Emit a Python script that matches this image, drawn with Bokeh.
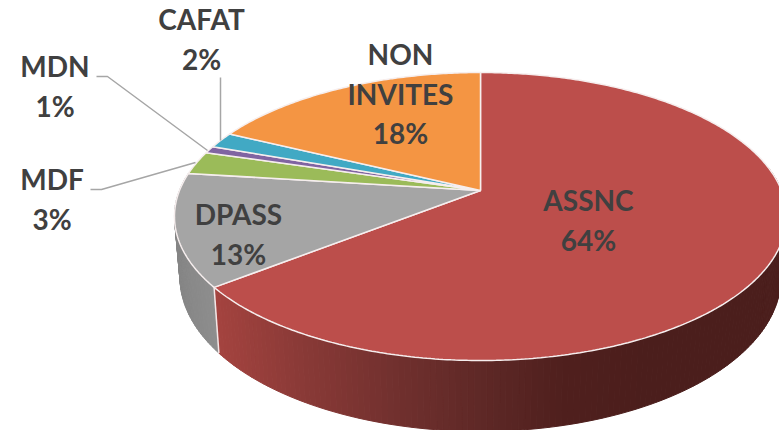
import numpy as np
from bokeh.plotting import figure
from bokeh.models import Range1d, ColumnDataSource
from bokeh.embed import file_html
from bokeh.resources import INLINE
from bokeh.core.properties import value

categories = ["ASSNC", "DPASS", "MDF", "MDN", "CAFAT", "NON INVITES"]
shares = [64.4, 12.6, 2.6, 0.8, 1.8, 17.8]
colors = ["#bc4e4b", "#a5a5a5", "#9bbb59", "#8064a2", "#41a9c4", "#f49543"]

# projection of the tilted disc
AX, AY = 480.0, 190.0
C, A, B = 301.0, 139.3, 0.1806
DEPTH = 66.0


def top_xy(theta):
    u, v = np.sin(theta), np.cos(theta)
    d = 1 + B * v
    return AX + C * u / d, AY - A * v / d


def bottom_xy(theta):
    x, y = top_xy(theta)
    return AX + (x - AX) * 0.982, y + DEPTH + (y - 290) * 0.07


def mix(stops, x):
    xs = [s[0] for s in stops]
    r = np.interp(x, xs, [s[1][0] for s in stops])
    g = np.interp(x, xs, [s[1][1] for s in stops])
    b = np.interp(x, xs, [s[1][2] for s in stops])
    return "#%02x%02x%02x" % (int(r), int(g), int(b))


RED_STOPS = [(219, (163, 67, 63)), (300, (138, 58, 55)), (400, (112, 48, 46)),
             (480, (95, 41, 39)), (560, (80, 32, 30)), (660, (75, 30, 28)), (790, (75, 30, 28))]
GRAY_STOPS = [(175, (134, 134, 134)), (220, (144, 144, 144))]

p = figure(width=779, height=430, output_backend="svg", toolbar_location=None,
           x_range=Range1d(0, 779), y_range=Range1d(430, 0), min_border=0,
           outline_line_color=None, background_fill_color="white", border_fill_color="white")
p.axis.visible = False
p.grid.visible = False

edges = np.cumsum([0] + shares) / sum(shares) * 2 * np.pi

# rim
red_end = edges[1]
gray_end = edges[2]
xs, ys, cs = [], [], []
for a, b in zip(np.radians(np.arange(80, 280, 1.0))[:-1], np.radians(np.arange(80, 280, 1.0))[1:]):
    if a >= gray_end:
        continue
    b = min(b, gray_end)
    if a < red_end < b:
        b = red_end
    x1, y1 = top_xy(a)
    x2, y2 = top_xy(b)
    x3, y3 = bottom_xy(b)
    x4, y4 = bottom_xy(a)
    xm = (x1 + x2) / 2
    cs.append(mix(RED_STOPS if a < red_end else GRAY_STOPS, xm))
    xs.append([x1, x2, x3, x4])
    ys.append([y1, y2, y3, y4])
p.patches("xs", "ys", source=ColumnDataSource(dict(xs=xs, ys=ys, c=cs)),
          fill_color="c", line_color="c", line_width=1)

# seam on the rim
sx, sy = top_xy(red_end)
bx, by = bottom_xy(red_end)
p.line([sx, bx], [sy, by], line_color="#f4e6e6", line_width=1.5)

# top face
for i, col in enumerate(colors):
    th = np.linspace(edges[i], edges[i + 1], max(3, int((edges[i + 1] - edges[i]) * 90)))
    x, y = top_xy(th)
    p.patch(np.r_[AX, x], np.r_[AY, y], fill_color=col, line_color="#f6eeee", line_width=1.5)

# leader lines
LEADER = "#a6a6a6"
p.line([220, 220], [77, 140], line_color=LEADER, line_width=1.5)
p.line([96, 107, 207], [76, 76, 150], line_color=LEADER, line_width=1.5)
p.line([90, 101, 195], [189, 189, 162], line_color=LEADER, line_width=1.5)

# labels
label_pos = {"ASSNC": (588, 199.5), "DPASS": (238, 213.5), "MDF": (51.5, 178.5), "MDN": (54.5, 65.5),
             "CAFAT": (201, 18.5), "NON INVITES": (400, 53.5)}
for name, share in zip(categories, shares):
    lx, ly = label_pos[name]
    lines = name.split(" ") + ["%d%%" % round(share)]
    for k, t in enumerate(lines):
        p.text([lx], [ly + 39.5 * k], text=[t], text_font=value("Lato"), text_font_style="bold",
               text_font_size="28px", text_color="#404040", text_align="center", text_baseline="middle")

open("out.html", "w").write(file_html(p, INLINE))
